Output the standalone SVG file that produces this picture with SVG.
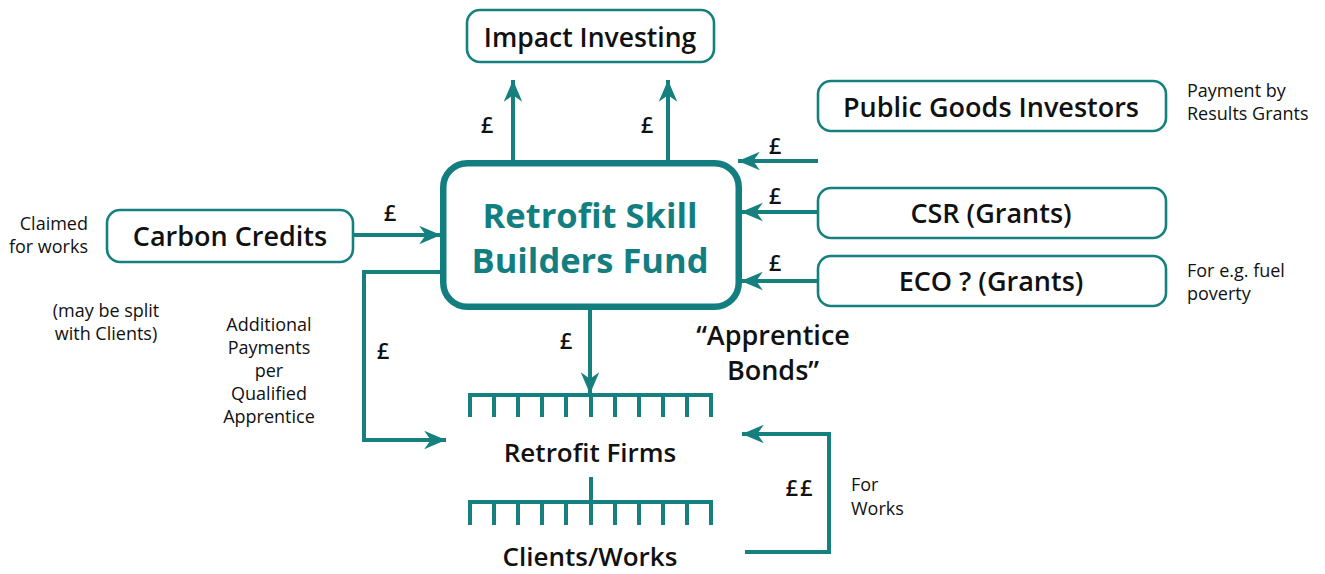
<svg xmlns="http://www.w3.org/2000/svg" width="1325" height="574" viewBox="0 0 1325 574">
  <style>
    .box { fill: #ffffff; stroke: #16807f; stroke-width: 2.6; }
    .fund { fill: #ffffff; stroke: #127e80; stroke-width: 6.5; }
    .wire { fill: none; stroke: #16807f; stroke-width: 4; }
    .bar { fill: none; stroke: #16807f; stroke-width: 4; stroke-linecap: butt; }
    .lbl { font-family: "Open Sans", "Liberation Sans", sans-serif; font-weight: 600; fill: #111111; text-anchor: middle; }
    .big { font-family: "Open Sans", "Liberation Sans", sans-serif; font-weight: 700; fill: #127e80; text-anchor: middle; font-size: 34.5px; }
    .note { font-family: "Open Sans", "Liberation Sans", sans-serif; font-weight: 400; fill: #111111; font-size: 18px; }
    .cur { font-family: "Open Sans", "Liberation Sans", sans-serif; font-weight: 600; fill: #111111; font-size: 22px; text-anchor: middle; }
  </style>
  <defs>
    <marker id="head" markerUnits="userSpaceOnUse" markerWidth="24" markerHeight="22" viewBox="-21 -10 22 20" refX="0" refY="0" orient="auto">
      <path d="M0,0 L-20,-8.5 L-14,0 L-20,8.5 Z" fill="#16807f"/>
    </marker>
  </defs>

  <!-- connectors -->
  <g id="connectors">
    <line class="wire" x1="513" y1="161" x2="513" y2="80" marker-end="url(#head)"/>
    <line class="wire" x1="668" y1="161" x2="668" y2="80" marker-end="url(#head)"/>
    <line class="wire" x1="818" y1="161" x2="738" y2="161" marker-end="url(#head)"/>
    <line class="wire" x1="818" y1="212" x2="741" y2="212" marker-end="url(#head)"/>
    <line class="wire" x1="818" y1="281" x2="741" y2="281" marker-end="url(#head)"/>
    <line class="wire" x1="353" y1="235" x2="441" y2="235" marker-end="url(#head)"/>
    <polyline class="wire" points="442,272 364,272 364,440 446,440" marker-end="url(#head)"/>
    <line class="wire" x1="590" y1="309" x2="590" y2="394" marker-end="url(#head)"/>
    <polyline class="wire" points="745,552 829,552 829,434 742,434" marker-end="url(#head)"/>
    <line class="bar" x1="591" y1="477" x2="591" y2="503"/>

    <text class="cur" x="487" y="133">£</text>
    <text class="cur" x="647" y="133">£</text>
    <text class="cur" x="775" y="154">£</text>
    <text class="cur" x="775" y="204">£</text>
    <text class="cur" x="775" y="271">£</text>
    <text class="cur" x="390" y="221">£</text>
    <text class="cur" x="383" y="359">£</text>
    <text class="cur" x="566" y="349">£</text>
    <text class="cur" x="800" y="496" letter-spacing="2">££</text>
  </g>

  <!-- fund -->
  <g id="fund">
    <rect class="fund" x="443.25" y="163.25" width="295.5" height="143.5" rx="24"/>
    <text class="big" x="590" y="228">Retrofit Skill</text>
    <text class="big" x="590" y="273">Builders Fund</text>
  </g>

  <g id="impact">
    <rect class="box" x="467" y="10" width="247" height="52" rx="13"/>
    <text class="lbl" x="590" y="47" font-size="26.5">Impact Investing</text>
  </g>

  <g id="public-goods">
    <rect class="box" x="818" y="81" width="348" height="50" rx="13"/>
    <text class="lbl" x="991" y="117" font-size="27">Public Goods Investors</text>
  </g>

  <g id="csr">
    <rect class="box" x="818" y="188" width="348" height="50" rx="13"/>
    <text class="lbl" x="991" y="223" font-size="27">CSR (Grants)</text>
  </g>

  <g id="eco">
    <rect class="box" x="818" y="256" width="348" height="50" rx="13"/>
    <text class="lbl" x="991" y="291" font-size="27">ECO ? (Grants)</text>
  </g>

  <g id="carbon">
    <rect class="box" x="107" y="210" width="246" height="52" rx="13"/>
    <text class="lbl" x="230" y="246" font-size="27">Carbon Credits</text>
  </g>

  <!-- firms: comb bar -->
  <g id="firms">
    <path class="bar" d="M468,395 H713 M470,393 V417 M494,395 V417 M518,395 V417 M542,395 V417 M566,395 V417 M591,395 V417 M615,395 V417 M639,395 V417 M663,395 V417 M687,395 V417 M711,393 V417"/>
    <text class="lbl" x="590" y="462" font-size="26">Retrofit Firms</text>
  </g>

  <g id="clients">
    <path class="bar" d="M468,502 H713 M470,500 V525 M494,502 V525 M518,502 V525 M542,502 V525 M566,502 V525 M591,502 V525 M615,502 V525 M639,502 V525 M663,502 V525 M687,502 V525 M711,500 V525"/>
    <text class="lbl" x="590" y="566" font-size="26">Clients/Works</text>
  </g>

  <!-- notes -->
  <g id="notes">
    <text class="note" x="88" y="230" text-anchor="end">Claimed</text>
    <text class="note" x="88" y="253" text-anchor="end">for works</text>
    <text class="note" x="106" y="317" text-anchor="middle">(may be split</text>
    <text class="note" x="106" y="340" text-anchor="middle">with Clients)</text>
    <text class="note" x="269" y="331" text-anchor="middle">Additional</text>
    <text class="note" x="269" y="354" text-anchor="middle">Payments</text>
    <text class="note" x="269" y="377" text-anchor="middle">per</text>
    <text class="note" x="269" y="400" text-anchor="middle">Qualified</text>
    <text class="note" x="269" y="423" text-anchor="middle">Apprentice</text>
    <text class="note" x="1187" y="97">Payment by</text>
    <text class="note" x="1187" y="120">Results Grants</text>
    <text class="note" x="1187" y="277">For e.g. fuel</text>
    <text class="note" x="1187" y="300">poverty</text>
    <text class="note" x="851" y="491">For</text>
    <text class="note" x="851" y="515">Works</text>
    <text class="lbl" x="773" y="345" font-size="27">“Apprentice</text>
    <text class="lbl" x="773" y="380" font-size="27">Bonds”</text>
  </g>
</svg>
